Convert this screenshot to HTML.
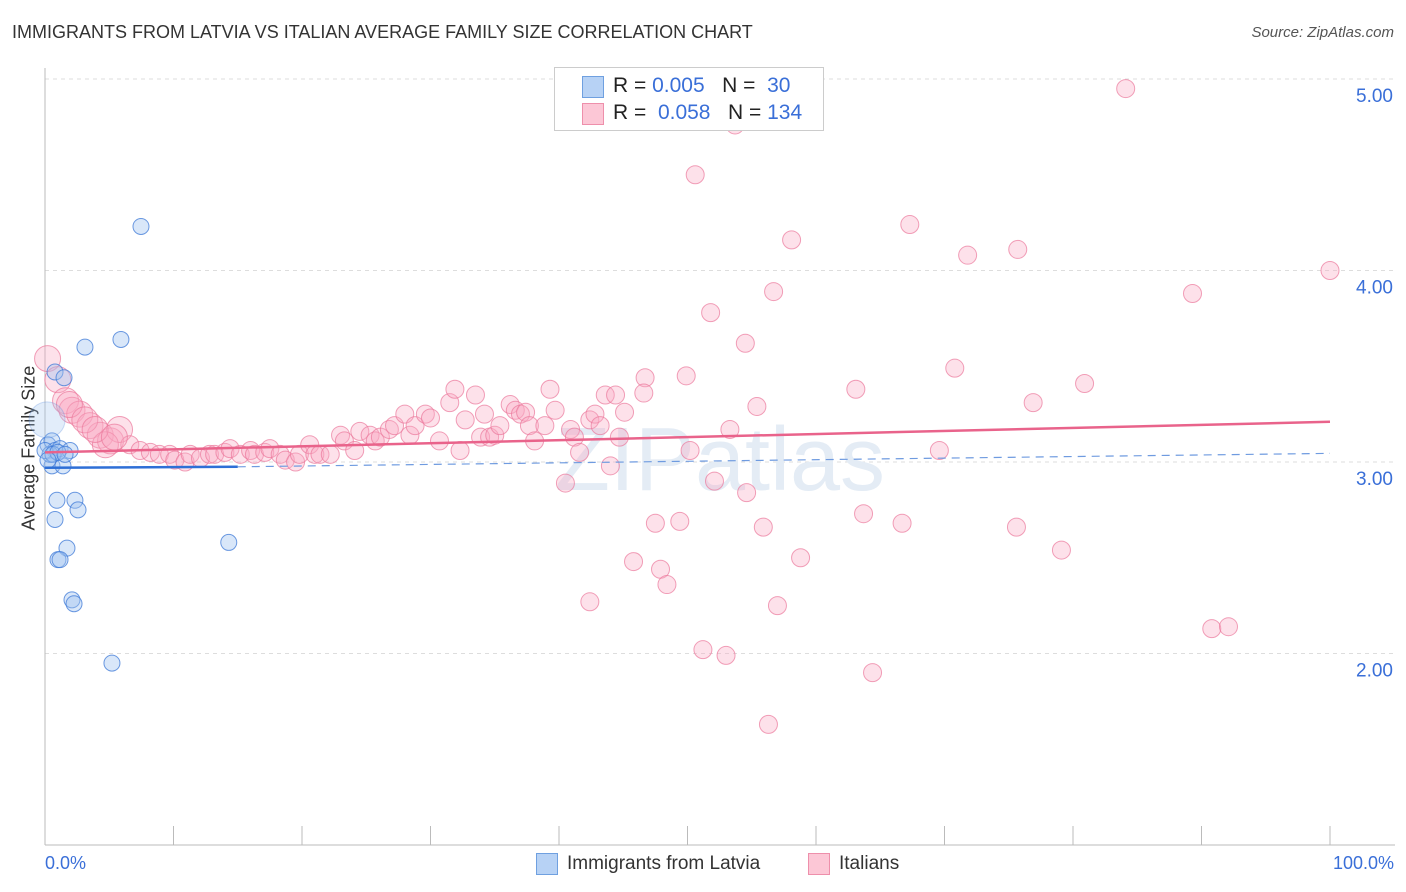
<!DOCTYPE html>
<html><head><meta charset="utf-8"><style>
body{margin:0;background:#fff;font-family:"Liberation Sans",sans-serif;}
#wrap{position:relative;width:1406px;height:892px;overflow:hidden;}
.t{position:absolute;white-space:nowrap;}
</style></head><body>
<div id="wrap">
<div class="t" style="left:12px;top:22px;font-size:18px;color:#333;">IMMIGRANTS FROM LATVIA VS ITALIAN AVERAGE FAMILY SIZE CORRELATION CHART</div>
<div class="t" style="right:12px;top:24px;font-size:15px;color:#555;font-style:italic;">Source: ZipAtlas.com</div>
<div class="t" style="left:-46px;top:445px;font-size:18px;color:#333;transform:rotate(-90deg);transform-origin:center;width:150px;text-align:center;">Average Family Size</div>
<svg id="plot" width="1406" height="892" style="position:absolute;left:0;top:0"></svg>
<div style="position:absolute;left:554px;top:67px;width:268px;height:62px;border:1px solid #ccc;background:#fff;font-size:21px;color:#222;">
 <div style="position:absolute;left:27px;top:8px;width:20px;height:20px;background:#b7d2f5;border:1px solid #6fa0e0;"></div>
 <div class="t" style="left:58px;top:6px;">R = <span style="color:#3a6fd8">0.005</span>&nbsp;&nbsp;&nbsp;N = &nbsp;<span style="color:#3a6fd8">30</span></div>
 <div style="position:absolute;left:27px;top:35px;width:20px;height:20px;background:#fcc7d6;border:1px solid #ee8fab;"></div>
 <div class="t" style="left:58px;top:33px;">R = &nbsp;<span style="color:#3a6fd8">0.058</span>&nbsp;&nbsp;&nbsp;N = <span style="color:#3a6fd8">134</span></div>
</div>
<div style="position:absolute;left:536px;top:853px;width:20px;height:20px;background:#b7d2f5;border:1px solid #6fa0e0;"></div>
<div class="t" style="left:567px;top:853px;font-size:19px;color:#333;">Immigrants from Latvia</div>
<div style="position:absolute;left:808px;top:853px;width:20px;height:20px;background:#fcc7d6;border:1px solid #ee8fab;"></div>
<div class="t" style="left:839px;top:853px;font-size:19px;color:#333;">Italians</div>
<div class="t" style="left:45px;top:853px;font-size:18px;color:#3a6fd8;">0.0%</div>
<div class="t" style="right:12px;top:853px;font-size:18px;color:#3a6fd8;">100.0%</div>
</div>
<script>
const yTicks=[5,4,3,2];
const yTickLabels=["5.00","4.00","3.00","2.00"];
const blueX=[0.23,0.54,0.78,1.17,1.95,0.54,1.4,0.78,1.48,3.11,5.91,7.47,0.93,2.33,0.78,2.57,1.71,1.01,1.17,2.1,2.26,5.21,14.3,0.16,0.39,0,0.62,1.0,1.56,0.23];
const blueY=[3.09,3.11,3.06,3.07,3.06,2.98,2.98,3.47,3.44,3.60,3.64,4.23,2.80,2.80,2.70,2.75,2.55,2.49,2.49,2.28,2.26,1.95,2.58,3.22,3.04,3.06,3.04,3.05,3.04,3.01];
const pinkX=[0.2,1.0,1.6,2.1,2.7,3.5,4.3,5.1,5.8,4.7,6.6,7.4,8.2,8.9,9.7,10.1,10.9,11.3,12.1,12.8,13.2,14.0,14.4,15.2,16.0,16.3,17.1,17.5,18.3,18.7,19.5,19.8,20.6,21.0,21.4,22.2,23.0,23.3,24.1,24.5,25.3,25.7,26.1,26.8,27.2,28.0,28.4,28.8,29.6,30.0,30.7,31.5,31.9,32.3,32.7,33.5,33.9,34.2,34.6,35.0,35.4,36.2,36.6,37.0,37.4,37.7,38.1,38.9,39.3,39.7,40.9,41.2,41.6,42.4,42.8,43.2,43.6,44.0,44.7,45.1,44.4,46.7,46.6,40.5,47.5,49.4,49.9,50.2,52.1,53.3,53.7,50.6,51.8,54.5,54.6,55.4,55.9,56.7,57.0,58.1,58.8,45.8,47.9,48.4,42.4,51.2,53.0,56.3,63.1,63.7,64.4,66.7,67.3,69.6,70.8,71.8,75.6,75.7,76.9,79.1,80.9,84.1,89.3,90.8,92.1,100,1.9,3.1,3.9,5.4];
const pinkY=[3.54,3.43,3.32,3.27,3.25,3.19,3.14,3.11,3.17,3.09,3.09,3.06,3.05,3.04,3.04,3.01,3.00,3.04,3.02,3.04,3.04,3.05,3.07,3.04,3.06,3.04,3.05,3.07,3.04,3.01,3.00,3.04,3.09,3.04,3.04,3.04,3.14,3.11,3.06,3.16,3.14,3.11,3.13,3.17,3.19,3.25,3.14,3.19,3.25,3.23,3.11,3.31,3.38,3.06,3.22,3.35,3.13,3.25,3.13,3.14,3.19,3.30,3.27,3.25,3.26,3.19,3.11,3.19,3.38,3.27,3.17,3.13,3.05,3.22,3.25,3.19,3.35,2.98,3.13,3.26,3.35,3.44,3.36,2.89,2.68,2.69,3.45,3.06,2.90,3.17,4.76,4.50,3.78,3.62,2.84,3.29,2.66,3.89,2.25,4.16,2.50,2.48,2.44,2.36,2.27,2.02,1.99,1.63,3.38,2.73,1.90,2.68,4.24,3.06,3.49,4.08,2.66,4.11,3.31,2.54,3.41,4.95,3.88,2.13,2.14,4.00,3.30,3.22,3.17,3.13];
const blueTrendX=[0,15,100];
const blueTrendY=[2.97,2.975,3.045];
const pinkTrendX=[0,100];
const pinkTrendY=[3.05,3.21];
const X0=45,X1=1330,YV3=462,PPU=191.5;
const sx=v=>X0+(v/100)*(X1-X0);
const sy=v=>YV3-(v-3)*PPU;
const svg=document.getElementById('plot');
const NS='http://www.w3.org/2000/svg';
function mk(tag,at){const e=document.createElementNS(NS,tag);for(const k in at)e.setAttribute(k,at[k]);svg.appendChild(e);return e;}
yTicks.forEach((t,i)=>{
 const g=mk('line',{x1:45,x2:1395,y1:sy(t),y2:sy(t),stroke:'#ddd','stroke-dasharray':'4,4'});
 
 
 const tx=mk('text',{x:1393,y:sy(t)+23,'text-anchor':'end','font-size':19,fill:'#3a6fd8','font-family':'Liberation Sans, sans-serif'});
 tx.textContent=yTickLabels[i];
 
 
});
const ax=mk('line',{x1:45,x2:45,y1:68,y2:845,stroke:'#bbb'});


const xa=mk('line',{x1:45,x2:1395,y1:845,y2:845,stroke:'#bbb'});


for(let k=0;k<=10;k++){const tk=mk('line',{x1:45+k*128.5,x2:45+k*128.5,y1:826,y2:845,stroke:'#bbb'});
 
 }
const wm=mk('text',{x:720,y:490,'text-anchor':'middle','font-size':90,fill:'#e4ecf5','font-family':'Liberation Sans, sans-serif'});
wm.textContent='ZIPatlas';


const nP=pinkX.length;
pinkX.forEach((x,i)=>{
 const r=(i<10||i>=nP-4)?13:9;
 const c=mk('circle',{cx:sx(x),cy:sy(pinkY[i]),r:r,fill:'rgba(248,170,195,0.35)',stroke:'rgba(235,120,155,0.7)','stroke-width':1});
 
 
});
blueX.forEach((x,i)=>{
 const r=i===23?18:8;
 const c=mk('circle',{cx:sx(x),cy:sy(blueY[i]),r:r,fill:i===23?'rgba(160,195,240,0.3)':'rgba(160,195,240,0.4)',stroke:i===23?'rgba(60,120,215,0.25)':'rgba(60,120,215,0.75)','stroke-width':1});
 
 
});
const pl=mk('line',{x1:sx(pinkTrendX[0]),y1:sy(pinkTrendY[0]),x2:sx(pinkTrendX[1]),y2:sy(pinkTrendY[1]),stroke:'#e9638b','stroke-width':2.5});


const bl=mk('line',{x1:sx(blueTrendX[0]),y1:sy(blueTrendY[0]),x2:sx(blueTrendX[1]),y2:sy(blueTrendY[1]),stroke:'#2e6fd6','stroke-width':2.5});


const bd=mk('line',{x1:sx(blueTrendX[1]),y1:sy(blueTrendY[1]),x2:sx(blueTrendX[2]),y2:sy(blueTrendY[2]),stroke:'#6f9be0','stroke-width':1.2,'stroke-dasharray':'8,6'});


</script>
</body></html>
